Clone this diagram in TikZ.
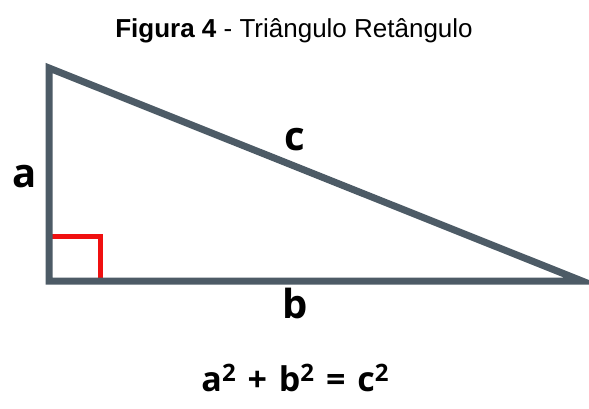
\documentclass[tikz,border=0pt]{standalone}
\usepackage{fontspec}
\setmainfont{Liberation Sans}
\newfontfamily\lblfont{Open Sans}
\definecolor{edgegray}{HTML}{4D5B66}
\definecolor{anglered}{HTML}{F01010}
\newcommand{\sqr}{\raisebox{0.32em}{\fontsize{24}{24}\selectfont 2}}
\begin{document}
\begin{tikzpicture}[x=1pt,y=-1pt,
  edge/.style={draw=edgegray,line width=7pt,line join=miter},
  lbl/.style={font=\lblfont\bfseries\fontsize{40}{40}\selectfont,inner sep=0pt}]
\useasboundingbox (0,0) rectangle (589,409);
\node[inner sep=0pt,font=\fontsize{26}{30}\selectfont] (title) at (294,31) {\textbf{Figura 4} - Triângulo Retângulo};
\coordinate (A) at (49,68);
\coordinate (B) at (49,281);
\coordinate (C) at (582,281);
\draw[anglered,line width=5pt] (52,236) -- (100,236) -- (100,278);
\draw[edge] (A) -- (B) -- (C) -- cycle;
\node[lbl] (la) at (25,177) {a};
\node[lbl] (lc) at (295,140) {c};
\node[lbl] (lb) at (295,303) {b};
\node[font=\lblfont\bfseries\fontsize{34}{34}\selectfont,inner sep=0pt] (formula) at (295,378) {a\sqr\hspace{0.35em}+\hspace{0.35em}b\sqr\hspace{0.35em}=\hspace{0.35em}c\sqr};
\end{tikzpicture}
\end{document}
